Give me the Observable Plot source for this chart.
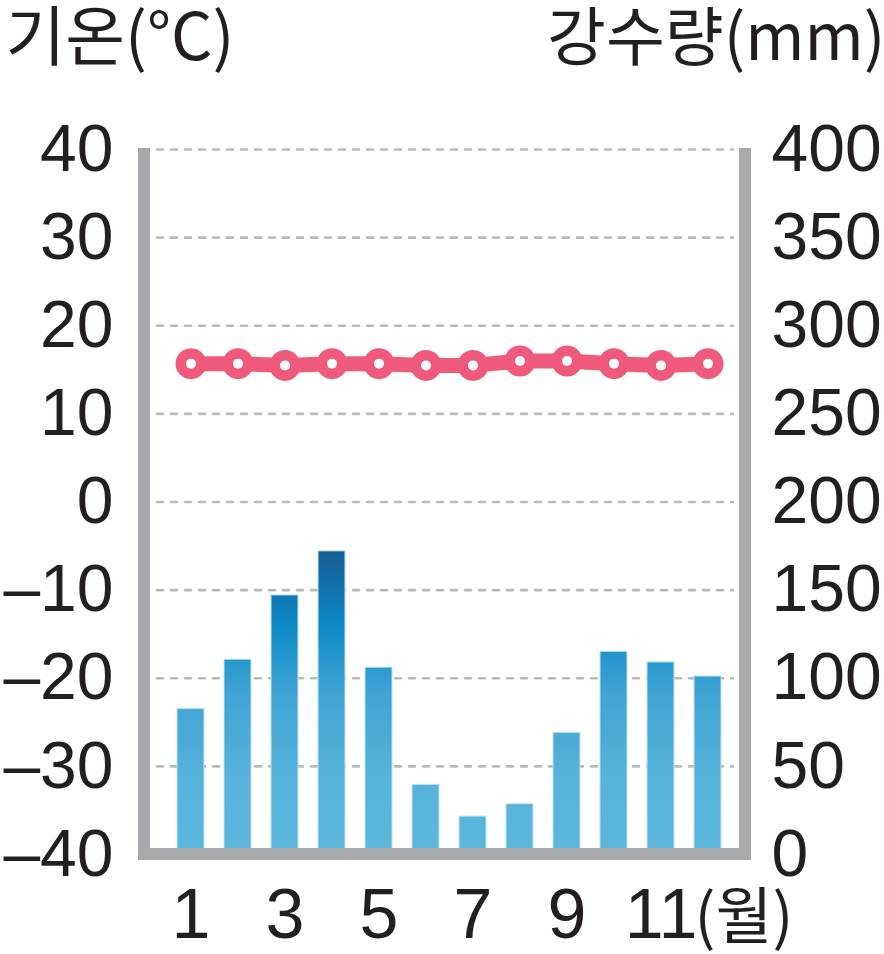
<!DOCTYPE html>
<html><head><meta charset="utf-8">
<script src="https://cdn.jsdelivr.net/npm/d3@7"></script>
<script src="https://cdn.jsdelivr.net/npm/@observablehq/plot@0.6"></script>
<style>body{margin:0;background:#fff;overflow:hidden}</style>
</head><body><div id="chart"></div>
<script>
const months = [1,2,3,4,5,6,7,8,9,10,11,12];
const temperature = [15.7,15.7,15.5,15.7,15.7,15.5,15.5,16.0,16.0,15.7,15.5,15.7];
const precipitation = [82.5,110.5,147,172,106,39.5,21.5,28.5,69,115,109,101];
const tempTicks = [-40,-30,-20,-10,0,10,20,30,40];
const gridTicks = [-30,-20,-10,0,10,20,30,40];
const xTickLabels = [1,3,5,7,9,11];
const leftTitle = "기온(°C)";
const rightTitle = "강수량(mm)";
const monthUnit = "(월)";

const data = months.map((m,i)=>({month:m, temp:temperature[i], precip:precipitation[i]}));
const toTemp = p => p/5 - 40;          // precipitation 0–400 shares the -40–40 axis
const fromTemp = t => (t + 40) * 5;

const W = 884, H = 954;
const mL = 144, mR = 141, mT = 149, mB = 100;
const num = "'Liberation Sans', Arial, Helvetica, sans-serif";
const kor = "'Noto Sans CJK KR', 'Noto Sans', sans-serif";

const chart = Plot.plot({
  width: W, height: H,
  marginLeft: mL, marginRight: mR, marginTop: mT, marginBottom: mB,
  style: {fontFamily: num, color: "#231f20", background: "#fff", overflow: "visible"},
  x: {type: "band", domain: months, range: [175.7, 723.3], paddingInner: 0.416, paddingOuter: 0},
  y: {domain: [-40, 40]},
  marks: [
    Plot.ruleY(gridTicks, {stroke: "#b9babc", strokeWidth: 2.6, strokeDasharray: "6,8", strokeLinecap: "round", insetLeft: 13, insetRight: 10}),
    Plot.barY(data, {x: "month", y1: -40, y2: d => toTemp(d.precip), fill: "url(#barGrad)", stroke: "#bfe2f2", strokeWidth: 1}),
    Plot.line(data, {x: "month", y: "temp", stroke: "#ef5a7b", strokeWidth: 15}),
    Plot.dot(data, {x: "month", y: "temp", r: 15.5, fill: "#ef5a7b", stroke: "none"}),
    Plot.dot(data, {x: "month", y: "temp", r: 5, fill: "#fff", stroke: "none"}),
    Plot.axisY(tempTicks, {anchor: "left", tickSize: 0, tickPadding: 31, fontSize: 66,
      tickFormat: d => d < 0 ? "–" + (-d) : String(d), label: null}),
    Plot.axisY(tempTicks, {anchor: "right", tickSize: 0, tickPadding: 28, fontSize: 66,
      tickFormat: d => String(fromTemp(d)), label: null}),
    Plot.axisX(xTickLabels, {anchor: "bottom", tickSize: 0, tickPadding: 34, fontSize: 70,
      tickFormat: d => String(d), label: null}),
    Plot.text([monthUnit], {text: d => d, frameAnchor: "bottom-right", textAnchor: "end", lineAnchor: "middle",
      dx: 50, dy: 65, fontSize: 62, fontFamily: kor}),
    Plot.text([leftTitle], {text: d => d, frameAnchor: "top-left", textAnchor: "start", lineAnchor: "middle",
      dx: -139, dy: -110, fontSize: 65, fontFamily: kor}),
    Plot.text([rightTitle], {text: d => d, frameAnchor: "top-right", textAnchor: "end", lineAnchor: "middle",
      dx: 142, dy: -110, fontSize: 64, fontFamily: kor, letterSpacing: -1.5})
  ]
});
document.getElementById("chart").appendChild(chart);

// gradient (absolute vertical) and the open gray frame
const ys = chart.scale("y");
const svg = d3.select(chart);
const defs = svg.insert("defs", ":first-child");
const grad = defs.append("linearGradient").attr("id", "barGrad")
  .attr("gradientUnits", "userSpaceOnUse")
  .attr("x1", 0).attr("x2", 0)
  .attr("y1", ys.apply(toTemp(172))).attr("y2", ys.apply(-40));
[[0, "#165b92"], [0.24, "#0b89c6"], [0.46, "#3ea3d3"], [0.74, "#56b2da"], [1, "#5cb6dc"]]
  .forEach(([o, c]) => grad.append("stop").attr("offset", o).attr("stop-color", c));

const yT = ys.apply(40) - 1, yB = ys.apply(-40);
const xL = mL, xR = W - mR + 2;
svg.append("path")
  .attr("d", `M${xL},${yT}V${yB}H${xR}V${yT}`)
  .attr("fill", "none").attr("stroke", "#a7a9ac").attr("stroke-width", 12)
  .attr("stroke-linejoin", "miter").attr("stroke-linecap", "butt");
</script>
</body></html>
